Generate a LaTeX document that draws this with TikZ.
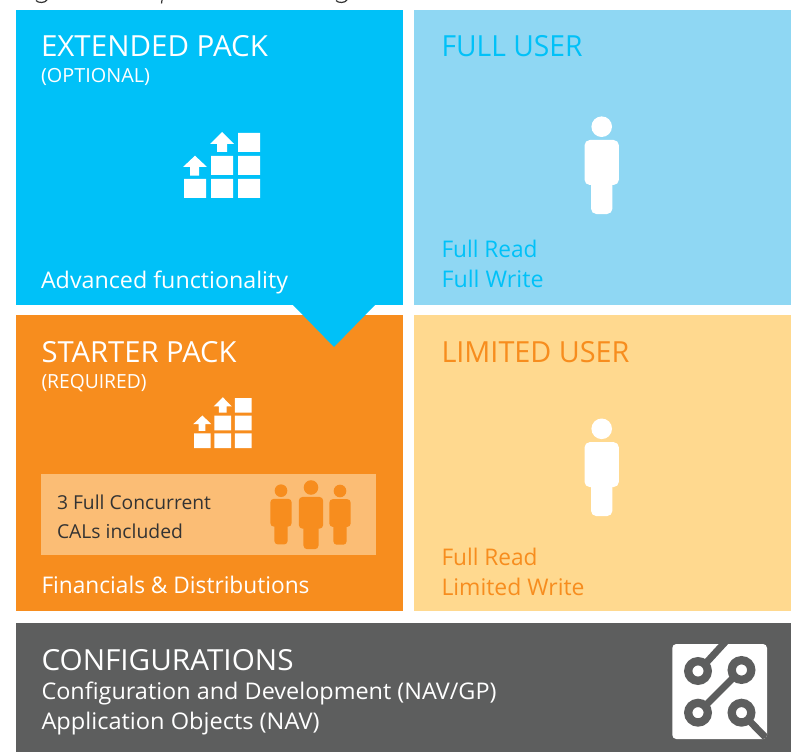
\documentclass[tikz,border=0pt]{standalone}
\usepackage{fontspec}
\usepackage{graphicx}
\setmainfont{Open Sans}[Scale=1]
\newcommand{\headfont}{\fontsize{21.8}{24}\selectfont}
\newcommand{\subfont}{\fontsize{14.6}{16}\selectfont}
\newcommand{\bodyfont}{\fontsize{17.2}{20}\selectfont}
\newcommand{\smallfont}{\fontsize{14.4}{18}\selectfont}
% set text at a given width in reference pixels, keeping its height
\newcommand{\tw}[2]{\resizebox{#1\dimexpr0.75pt\relax}{\height}{#2}}
\definecolor{cblue}{HTML}{00C1F8}
\definecolor{clblue}{HTML}{8FD7F3}
\definecolor{corange}{HTML}{F78D1E}
\definecolor{cyellow}{HTML}{FFD98F}
\definecolor{cpale}{HTML}{FBBD75}
\definecolor{cgrey}{HTML}{5D5E5E}
\definecolor{ctext}{HTML}{333333}
\tikzset{
  panel/.style={fill=#1,draw=none},
  txt/.style={anchor=base west,inner sep=0pt,outer sep=0pt,text=#1},
}
\newcommand{\person}[4]{% cx, head cy, scale, colour
  \begin{scope}[shift={(#1,#2)},scale=#3]
    \fill[#4] (0,0) circle[radius=10.3];
    \fill[#4,rounded corners=4*#3] (-17.2,13.3) rectangle (17.2,58.3);
    \fill[#4,rounded corners=4*#3] (-10.7,50) rectangle (10.7,87.3);
  \end{scope}}
\newcommand{\stairs}[5]{% x, y, sx, sy, colour
  \begin{scope}[shift={(#1,#2)},xscale=#3,yscale=#4]
    \fill[#5] (0,46) rectangle (22,65) (27,46) rectangle (49,65) (54,46) rectangle (76,65)
      (27,23) rectangle (49,42) (54,23) rectangle (76,42) (54,0) rectangle (76,19);
    \fill[#5] (11,22.7) -- (23,34) -- (15,34) -- (15,42.7) -- (6,42.7) -- (6,34) -- (-1,34) -- cycle;
    \fill[#5] (38,-1) -- (50,11) -- (43,11) -- (43,19) -- (33,19) -- (33,11) -- (26,11) -- cycle;
  \end{scope}}
\begin{document}
\begin{tikzpicture}[x=0.75pt,y=-0.75pt]
\useasboundingbox (0,0) rectangle (791,752);
% clipped descenders of the line of text above the panels
\begin{scope}
  \clip (0,0) rectangle (791,10);
  \draw[ctext,line width=0.9pt] (36,0.5) .. controls (38,3.2) and (45,3.2) .. (47,0);
  \draw[ctext,line width=0.9pt] (162,0) -- (161.5,3.5);
  \draw[ctext,line width=0.9pt] (336,0.5) .. controls (338,3.2) and (345,3.2) .. (347,0);
\end{scope}
\fill[panel=cblue] (16,10) rectangle (403,305);
\fill[panel=clblue] (414,10) rectangle (791,305);
\fill[panel=corange] (16,315) rectangle (403,611);
\fill[panel=cyellow] (414,315) rectangle (791,611);
\fill[panel=cgrey] (16,623) rectangle (791,752);
\fill[cblue] (293,305) -- (375,305) -- (334,347) -- cycle;
\fill[cpale] (41,474) rectangle (375.5,555);
% icons
\stairs{184}{133}{1}{1}{white}
\stairs{194}{398}{0.757}{0.77}{white}
\person{601.7}{126.7}{1}{white}
\person{601.7}{428.8}{1}{white}
\person{281}{490.7}{0.615}{corange}
\person{311}{487.5}{0.707}{corange}
\person{340}{491}{0.615}{corange}
% config icon
\fill[white,rounded corners=3] (672.3,644) rectangle (767,739);
\begin{scope}
  \clip[rounded corners=3] (672.3,644) rectangle (767,739);
  \draw[cgrey,line width=6.2pt] (698,671) circle[radius=9.8];
  \draw[cgrey,line width=6.2pt] (741.5,670) circle[radius=9.8];
  \draw[cgrey,line width=6.2pt] (698,712.7) circle[radius=9.8];
  \draw[cgrey,line width=6.2pt] (741.5,712.7) circle[radius=9.8];
  \draw[cgrey,line width=5.2pt] (706,663) -- (728,639);
  \draw[cgrey,line width=5.2pt] (733,678) -- (706,705);
  \draw[cgrey,line width=5.2pt] (749.5,721) -- (772,744);
\end{scope}
% texts
\node[txt=white] (ext) at (41,57) {\headfont\tw{227}{EXTENDED PACK}};
\node[txt=white] (opt) at (41,82.5) {\subfont\tw{109}{(OPTIONAL)}};
\node[txt=white] (adv) at (41,288.2) {\bodyfont\tw{247}{Advanced functionality}};
\node[txt=cblue] (full) at (441.5,57) {\headfont\tw{141}{FULL USER}};
\node[txt=cblue] (fr) at (441.5,257.2) {\bodyfont\tw{96}{Full Read}};
\node[txt=cblue] (fw) at (441.5,287.2) {\bodyfont\tw{102}{Full Write}};
\node[txt=white] (st) at (41.5,362.8) {\headfont\tw{195}{STARTER PACK}};
\node[txt=white] (req) at (41.5,388) {\subfont\tw{105}{(REQUIRED)}};
\node[txt=ctext] (c1) at (57,509) {\smallfont\tw{154}{3 Full Concurrent}};
\node[txt=ctext] (c2) at (57,538) {\smallfont\tw{126}{CALs included}};
\node[txt=white] (fin) at (41.5,593.2) {\bodyfont\tw{268}{Financials \& Distributions}};
\node[txt=corange] (lim) at (441.5,362.8) {\headfont\tw{188}{LIMITED USER}};
\node[txt=corange] (lr) at (441.5,565.2) {\bodyfont\tw{96}{Full Read}};
\node[txt=corange] (lw) at (441.5,595.2) {\bodyfont\tw{143}{Limited Write}};
\node[txt=white] (cfg) at (41.5,670) {\headfont\tw{252}{CONFIGURATIONS}};
\node[txt=white] (cd) at (41.5,699.2) {\bodyfont\tw{455}{Configuration and Development (NAV/GP)}};
\node[txt=white] (ao) at (41.5,729.2) {\bodyfont\tw{278}{Application Objects (NAV)}};
\end{tikzpicture}
\end{document}
